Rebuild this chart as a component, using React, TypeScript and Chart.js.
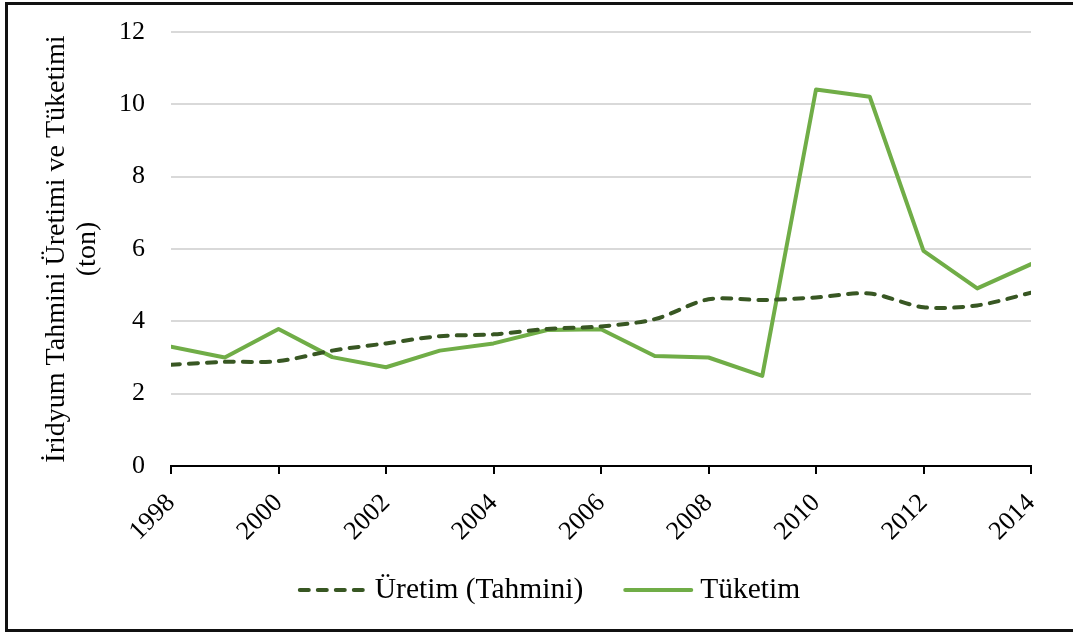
import React, { useEffect, useRef } from "react";
import { Chart, registerables } from "chart.js";

Chart.register(...registerables);

const years = [1998, 1999, 2000, 2001, 2002, 2003, 2004, 2005, 2006, 2007, 2008, 2009, 2010, 2011, 2012, 2013, 2014];
const uretim = [2.8, 2.88, 2.9, 3.19, 3.39, 3.59, 3.64, 3.79, 3.86, 4.06, 4.61, 4.59, 4.66, 4.77, 4.39, 4.44, 4.79];
const tuketim = [3.3, 3.0, 3.79, 3.01, 2.73, 3.19, 3.39, 3.76, 3.78, 3.04, 3.0, 2.49, 10.41, 10.21, 5.95, 4.91, 5.58];
const seriesLabels = ["Üretim (Tahmini)", "Tüketim"];
const yTitle = ["İridyum Tahmini Üretimi ve Tüketimi", "(ton)"];
const yMin = 0;
const yMax = 12;
const yStep = 2;
const xStep = 2;

const SERIF = '"Liberation Serif", "Times New Roman", serif';

export default function App() {
  const ref = useRef<HTMLCanvasElement | null>(null);

  useEffect(() => {
    if (!ref.current) return;
    Chart.defaults.font.family = SERIF;

    const customLegend = {
      id: "customLegend",
      afterDraw(chart: any) {
        const ctx = chart.ctx as CanvasRenderingContext2D;
        const markerW = 70;
        const gap = 7;
        const spacing = 40;
        const centerX = 549;
        const cy = 590;
        ctx.save();
        ctx.font = `29.5px ${SERIF}`;
        const items = chart.data.datasets.map((ds: any) => ({
          label: ds.label as string,
          color: ds.borderColor as string,
          dash: (ds.borderDash || []) as number[],
          lw: ds.borderWidth as number,
        }));
        const widths = items.map((it: any) => markerW + gap + ctx.measureText(it.label).width);
        const total = widths.reduce((a: number, b: number) => a + b, 0) + spacing * (items.length - 1);
        let x = centerX - total / 2;
        items.forEach((it: any, i: number) => {
          ctx.beginPath();
          ctx.setLineDash(it.dash);
          ctx.lineCap = "round";
          ctx.lineWidth = it.lw;
          ctx.strokeStyle = it.color;
          ctx.moveTo(x + 2, cy);
          ctx.lineTo(x + markerW - 2, cy);
          ctx.stroke();
          ctx.setLineDash([]);
          ctx.fillStyle = "#000";
          ctx.textAlign = "left";
          ctx.textBaseline = "middle";
          ctx.fillText(it.label, x + markerW + gap, cy);
          x += widths[i] + spacing;
        });
        ctx.restore();
      },
    };

    const chart = new Chart(ref.current, {
      type: "line",
      data: {
        datasets: [
          {
            label: seriesLabels[0],
            data: years.map((y, i) => ({ x: y, y: uretim[i] })),
            borderColor: "#385723",
            backgroundColor: "#385723",
            borderWidth: 4,
            borderDash: [9, 9],
            borderCapStyle: "round",
            borderJoinStyle: "round",
            tension: 0.3,
            pointRadius: 0,
            fill: false,
          },
          {
            label: seriesLabels[1],
            data: years.map((y, i) => ({ x: y, y: tuketim[i] })),
            borderColor: "#70ad47",
            backgroundColor: "#70ad47",
            borderWidth: 4,
            borderCapStyle: "round",
            borderJoinStyle: "round",
            tension: 0,
            pointRadius: 0,
            fill: false,
          },
        ],
      },
      options: {
        responsive: false,
        animation: false,
        devicePixelRatio: 1,
        layout: { padding: { left: 8, top: 32, right: 42, bottom: 95 } },
        plugins: {
          tooltip: { enabled: false },
          legend: { display: false },
        },
        scales: {
          x: {
            type: "linear",
            min: years[0],
            max: years[years.length - 1],
            ticks: {
              stepSize: xStep,
              autoSkip: false,
              minRotation: 45,
              maxRotation: 45,
              color: "#000",
              padding: 14,
              font: { family: SERIF, size: 26 },
              callback: (v: any) => String(v),
            },
            grid: {
              drawOnChartArea: false,
              drawTicks: true,
              tickLength: 8,
              color: "#000",
              lineWidth: 2,
            },
            border: { display: true, color: "#000", width: 2 },
            afterFit(s: any) {
              s.height = 74;
              s.paddingLeft = 0;
              s.paddingRight = 0;
            },
          },
          y: {
            min: yMin,
            max: yMax,
            ticks: {
              stepSize: yStep,
              color: "#000",
              padding: 26,
              font: { family: SERIF, size: 26 },
            },
            grid: { color: "#d9d9d9", lineWidth: 2, drawTicks: false },
            border: { display: false },
            title: {
              display: true,
              text: yTitle,
              color: "#000",
              font: { family: SERIF, size: 28, lineHeight: 1.1 },
              padding: { top: 33, bottom: 0 },
            },
            afterFit(s: any) {
              s.width = 163;
              s.paddingTop = 0;
              s.paddingBottom = 0;
            },
          },
        },
      },
      plugins: [customLegend],
    } as any);

    return () => chart.destroy();
  }, []);

  return (
    <div style={{ position: "fixed", left: 0, top: 0, width: 1073, height: 635, background: "#fff", overflow: "hidden" }}>
      <canvas ref={ref} width={1073} height={635} style={{ position: "absolute", left: 0, top: 0, width: 1073, height: 635 }} />
      <div
        style={{
          position: "absolute",
          left: 5,
          top: 2,
          width: 1090,
          height: 630,
          boxSizing: "border-box",
          borderTop: "3px solid #111",
          borderLeft: "3px solid #111",
          borderBottom: "3px solid #111",
          pointerEvents: "none",
        }}
      />
    </div>
  );
}
